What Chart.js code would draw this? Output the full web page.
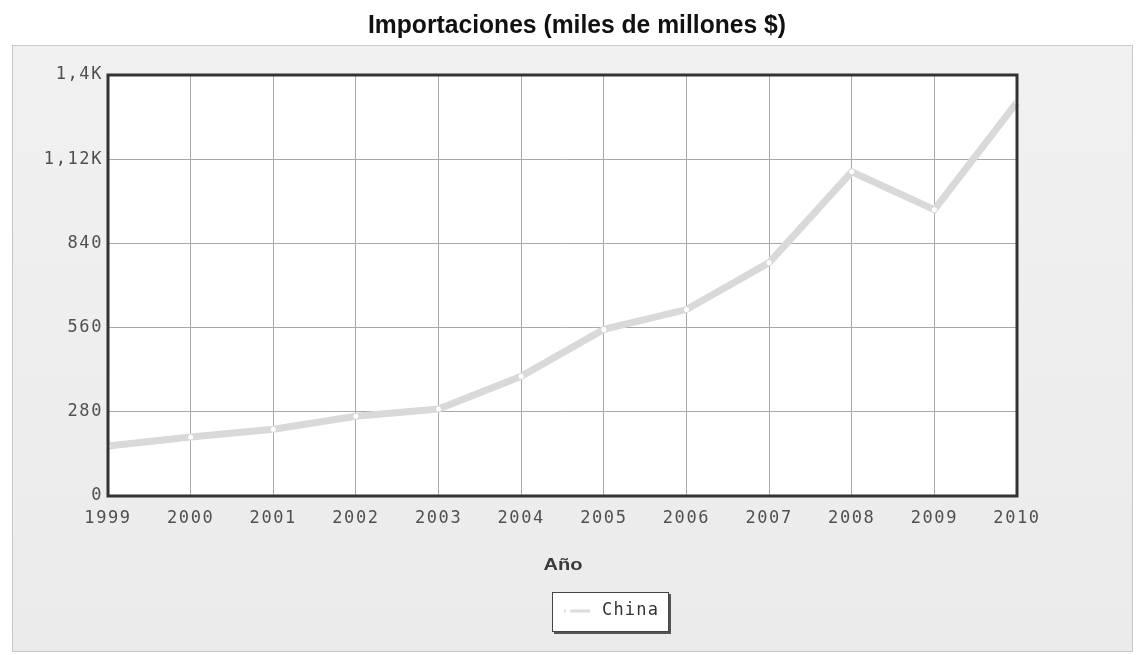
<!DOCTYPE html>
<html>
<head>
<meta charset="utf-8">
<script src="https://cdn.jsdelivr.net/npm/chart.js@4/dist/chart.umd.min.js"></script>
<style>
  html, body { margin: 0; padding: 0; background: #ffffff; }
  #wrap { width: 1139px; height: 655px; position: relative; }
</style>
</head>
<body>
<div id="wrap"><canvas id="c" width="1139" height="655"></canvas></div>
<script>
const titleText = "Importaciones (miles de millones $)";
const xAxisTitle = "Año";
const seriesName = "China";
const years = ["1999","2000","2001","2002","2003","2004","2005","2006","2007","2008","2009","2010"];
const imports = [166, 196, 222, 265, 289, 398, 554, 620, 776, 1078, 952, 1310];
const yTicks = [0, 280, 560, 840, 1120, 1400];
const yTickLabels = ["0", "280", "560", "840", "1,12K", "1,4K"];

const PLOT_LEFT = 108, PLOT_RIGHT = 1017, PLOT_TOP = 75, PLOT_BOTTOM = 496;
const MONO = '"DejaVu Sans Mono", "Liberation Mono", monospace';

function fitText(ctx, text, cx, y, width) {
  const w = ctx.measureText(text).width;
  ctx.save();
  ctx.translate(cx, y);
  ctx.scale(width / w, 1);
  ctx.textAlign = 'center';
  ctx.fillText(text, 0, 0);
  ctx.restore();
}

const decor = {
  id: 'decor',
  beforeDraw(chart) {
    const ctx = chart.ctx;
    ctx.save();
    ctx.letterSpacing = '0px';
    const g = ctx.createLinearGradient(0, 45, 0, 652);
    g.addColorStop(0, '#f1f1f1');
    g.addColorStop(1, '#ebebeb');
    ctx.fillStyle = g;
    ctx.fillRect(12, 45, 1121, 607);
    ctx.strokeStyle = '#c8c8c8';
    ctx.lineWidth = 1;
    ctx.strokeRect(12.5, 45.5, 1120, 606);
    const ca = chart.chartArea;
    ctx.fillStyle = '#ffffff';
    ctx.fillRect(ca.left, ca.top, ca.right - ca.left, ca.bottom - ca.top);
    ctx.fillStyle = '#111111';
    ctx.font = 'bold 25px "Liberation Sans", Arial, sans-serif';
    ctx.textBaseline = 'alphabetic';
    fitText(ctx, titleText, 577, 33, 418);
    ctx.fillStyle = '#3a3a3a';
    ctx.font = 'bold 16px "Liberation Sans", Arial, sans-serif';
    ctx.textBaseline = 'middle';
    fitText(ctx, xAxisTitle, 563, 566, 39);
    ctx.restore();
    ctx.letterSpacing = '1.6px';
  },
  afterDatasetsDraw(chart) {
    const ctx = chart.ctx;
    const ca = chart.chartArea;
    ctx.save();
    ctx.strokeStyle = '#333333';
    ctx.lineWidth = 3;
    ctx.strokeRect(ca.left, ca.top, ca.right - ca.left, ca.bottom - ca.top);
    ctx.restore();
  },
  afterDraw(chart) {
    const ctx = chart.ctx;
    ctx.save();
    const bx = 552, by = 592, bw = 117, bh = 40;
    ctx.fillStyle = '#555555';
    ctx.fillRect(bx + 2, by + 2, bw, bh);
    ctx.fillStyle = '#ffffff';
    ctx.fillRect(bx, by, bw, bh);
    ctx.strokeStyle = '#444444';
    ctx.lineWidth = 1;
    ctx.strokeRect(bx + 0.5, by + 0.5, bw - 1, bh - 1);
    ctx.strokeStyle = '#dcdcdc';
    ctx.lineWidth = 3;
    ctx.beginPath();
    ctx.moveTo(564, 611);
    ctx.lineTo(590, 611);
    ctx.stroke();
    ctx.fillStyle = '#ffffff';
    ctx.beginPath();
    ctx.arc(568, 611, 2.5, 0, Math.PI * 2);
    ctx.fill();
    ctx.fillStyle = '#333333';
    ctx.font = '17px ' + MONO;
    ctx.letterSpacing = '1.2px';
    ctx.textAlign = 'left';
    ctx.textBaseline = 'middle';
    ctx.fillText(chart.data.datasets[0].label, 602, 611);
    ctx.restore();
    ctx.letterSpacing = '0px';
  }
};

new Chart(document.getElementById('c'), {
  type: 'line',
  data: {
    labels: years,
    datasets: [{
      label: seriesName,
      data: imports,
      borderColor: '#d9d9d9',
      borderWidth: 7,
      pointRadius: 2.5,
      pointBackgroundColor: '#ffffff',
      pointBorderWidth: 0,
      tension: 0,
      clip: false
    }]
  },
  options: {
    responsive: false,
    animation: false,
    devicePixelRatio: 1,
    layout: { padding: { top: PLOT_TOP, right: 1139 - PLOT_RIGHT, bottom: 0, left: 0 } },
    plugins: {
      legend: { display: false },
      title: { display: false },
      tooltip: { enabled: false }
    },
    scales: {
      x: {
        type: 'category',
        offset: false,
        grid: { color: '#a9a9a9', lineWidth: 1, drawTicks: false },
        border: { display: false },
        ticks: {
          color: '#505050',
          font: { family: MONO, size: 17 },
          padding: 12,
          maxRotation: 0,
          autoSkip: false
        },
        afterFit(scale) { scale.height = 655 - PLOT_BOTTOM; }
      },
      y: {
        min: 0,
        max: 1400,
        grid: { color: '#a9a9a9', lineWidth: 1, drawTicks: false },
        border: { display: false },
        afterBuildTicks(scale) { scale.ticks = yTicks.map(v => ({ value: v })); },
        ticks: {
          color: '#505050',
          font: { family: MONO, size: 17 },
          padding: 5,
          callback: (v) => yTickLabels[yTicks.indexOf(v)]
        },
        afterFit(scale) { scale.width = PLOT_LEFT; }
      }
    }
  },
  plugins: [decor]
});
</script>
</body>
</html>
